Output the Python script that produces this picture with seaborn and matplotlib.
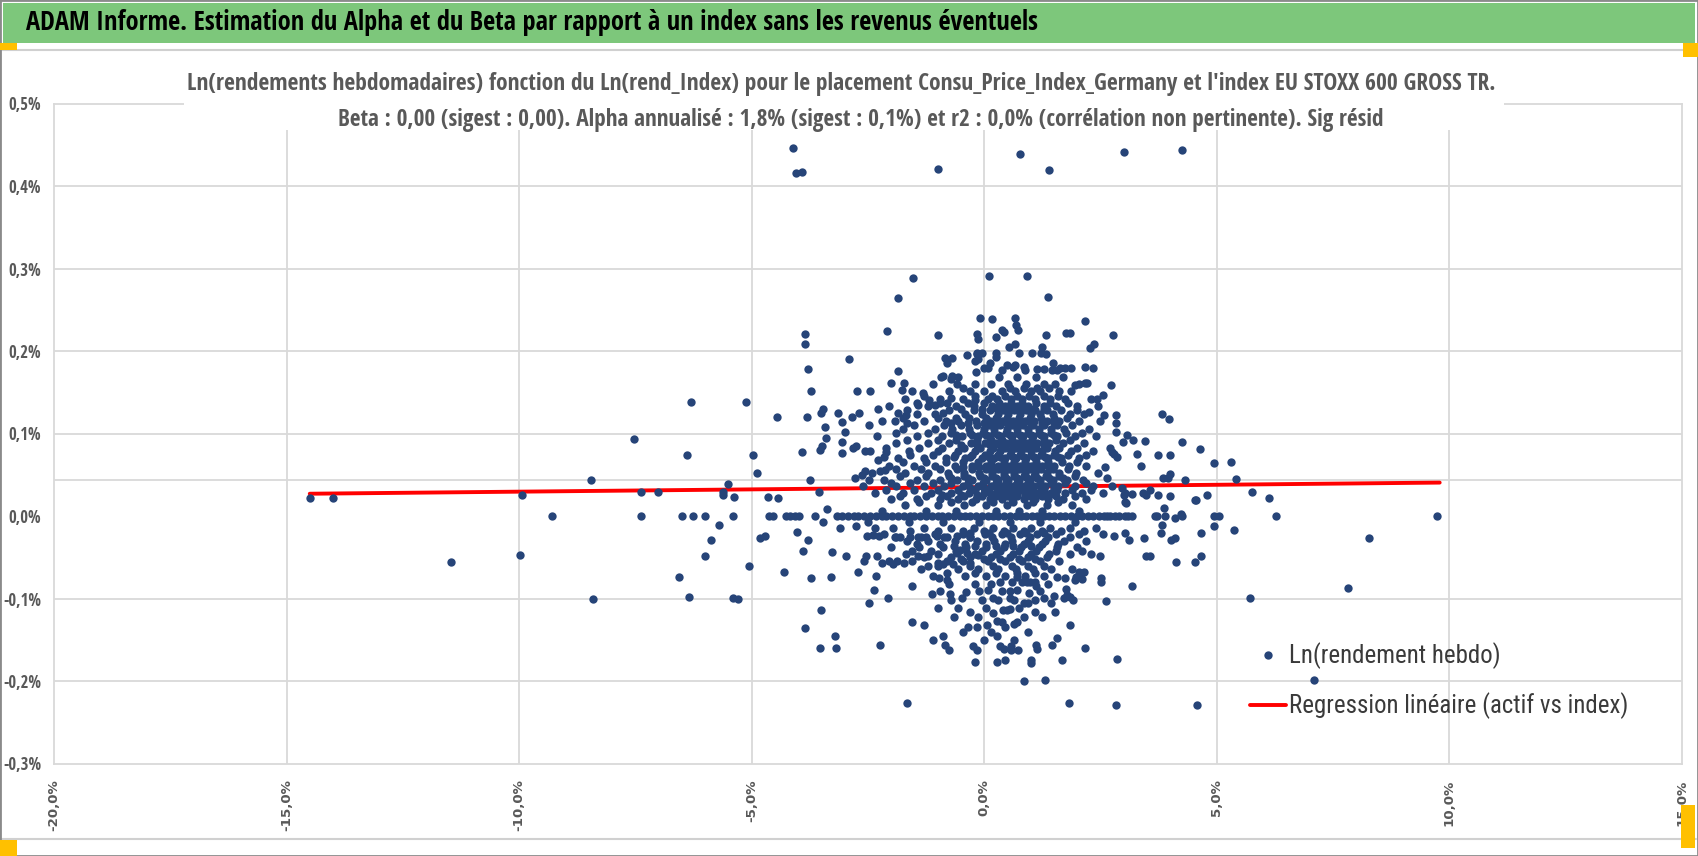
import matplotlib
matplotlib.use("Agg")
import matplotlib.pyplot as plt
import seaborn as sns
import pandas as pd
from matplotlib.lines import Line2D
from matplotlib.patches import Rectangle
from matplotlib import font_manager as fm
from matplotlib.font_manager import FontProperties

# ---------------- data (in %) ----------------
left_tail = [(-14.49, 0.022), (-14.01, 0.022), (-11.46, -0.056), (-9.98, -0.047), (-9.93, 0.025),
             (-9.28, 0.0), (-8.45, 0.044), (-8.40, -0.101), (-7.53, 0.093), (-7.37, 0.029), (-7.37, 0.0),
             (-7.02, 0.029), (-6.38, 0.074), (-6.55, -0.074), (-6.35, -0.098), (-6.49, 0.0), (-6.26, 0.0),
             (-5.99, 0.0), (-5.39, 0.0), (-6.30, 0.138), (-5.12, 0.138), (-5.51, 0.039), (-5.62, 0.029),
             (-5.61, 0.025), (-5.38, 0.023), (-4.97, 0.074), (-4.89, 0.052), (-5.69, -0.011), (-5.88, -0.029),
             (-6.0, -0.048), (-5.39, -0.099), (-5.28, -0.101), (-5.05, -0.06), (-4.82, -0.027), (-4.70, -0.024),
             (-4.65, 0.023), (-4.42, 0.022), (-4.62, 0.0), (-4.53, 0.0), (-4.45, 0.12), (-4.26, 0.0), (-4.17, 0.0),
             (-4.06, 0.0), (-3.97, 0.0), (-4.10, 0.446), (-4.04, 0.416), (-3.92, 0.417)]

upper_points = [(-0.98, 0.421), (0.78, 0.439), (1.40, 0.419), (3.0, 0.441), (4.25, 0.444), (-1.53, 0.289),
                (0.10, 0.291), (0.92, 0.291), (-1.85, 0.264), (-2.09, 0.224), (-1.0, 0.220), (-3.84, 0.221),
                (-3.85, 0.208), (-3.78, 0.178), (-3.71, 0.151), (-2.91, 0.19), (-3.81, 0.12), (-3.91, 0.078),
                (-3.74, 0.044), (-3.55, 0.029), (-3.43, 0.108), (-3.4, 0.095), (-3.5, 0.125), (-3.46, 0.13),
                (-3.52, 0.08), (-3.49, 0.085), (-3.15, 0.125), (-3.05, 0.114), (-3.0, 0.102), (-3.05, 0.09),
                (-3.05, 0.076), (-2.84, 0.12), (-2.68, 0.125), (-2.73, 0.151), (-2.46, 0.152), (-2.47, 0.11),
                (-2.29, 0.13), (-2.81, 0.082), (-2.75, 0.085), (-2.55, 0.079), (-2.77, 0.046), (-2.63, 0.05),
                (-2.55, 0.054), (-2.47, 0.044), (-2.27, 0.068), (-2.15, 0.072), (-2.11, 0.078), (-2.24, 0.054),
                (-2.13, 0.056), (-1.99, 0.161), (-1.85, 0.176), (-1.72, 0.161), (-1.76, 0.153), (-1.86, 0.125),
                (-1.68, 0.123), (-1.65, 0.113), (-1.92, 0.115), (-0.89, 0.125), (-0.84, 0.191), (-0.68, 0.191),
                (-0.8, 0.185), (-0.89, 0.17), (-0.93, 0.168), (-0.68, 0.17), (-0.7, 0.166), (-0.57, 0.16),
                (-0.37, 0.195), (-0.14, 0.221), (-0.12, 0.215), (-0.09, 0.24), (-0.15, 0.196), (-0.12, 0.19),
                (-0.17, 0.175), (-0.3, 0.152), (-0.71, 0.143), (-0.19, 0.141), (-1.32, 0.149), (-1.41, 0.135),
                (-1.18, 0.141), (-1.05, 0.135), (-0.95, 0.137), (1.37, 0.266), (0.17, 0.239), (0.67, 0.240),
                (0.68, 0.232), (0.74, 0.226), (0.39, 0.225), (0.42, 0.223), (0.26, 0.217), (1.33, 0.220),
                (1.77, 0.222), (1.86, 0.222), (2.17, 0.236), (2.78, 0.220), (2.29, 0.204), (2.37, 0.208),
                (0.54, 0.205), (0.66, 0.208), (1.25, 0.205), (1.23, 0.198), (1.34, 0.196), (-0.16, 0.198),
                (-0.04, 0.198), (0.26, 0.197), (0.26, 0.193), (0.76, 0.198), (1.03, 0.197), (-0.19, 0.188),
                (-0.01, 0.18), (0.09, 0.18), (0.13, 0.185), (0.39, 0.177), (0.50, 0.183), (0.62, 0.181),
                (0.67, 0.183), (0.85, 0.181), (0.88, 0.177), (1.15, 0.178), (1.28, 0.178), (1.48, 0.185),
                (1.46, 0.177), (1.58, 0.177), (1.63, 0.179), (1.74, 0.179), (1.87, 0.179), (2.17, 0.181),
                (2.34, 0.179), (2.17, 0.161), (2.21, 0.161), (2.74, 0.159), (1.96, 0.159), (2.55, 0.147),
                (2.42, 0.142), (2.25, 0.126), (2.57, 0.123), (2.83, 0.122), (2.83, 0.113), (2.83, 0.102),
                (3.83, 0.124), (3.97, 0.117), (3.08, 0.098), (2.99, 0.09), (3.2, 0.092), (3.46, 0.091),
                (4.26, 0.09), (4.65, 0.081), (2.70, 0.082), (2.75, 0.077), (2.80, 0.075), (2.86, 0.072),
                (3.30, 0.075), (3.38, 0.061), (3.75, 0.074), (3.99, 0.074), (2.60, 0.059), (2.64, 0.046),
                (3.84, 0.046), (3.96, 0.046), (4.0, 0.051), (4.32, 0.044)]

right_tail = [(2.75, 0.036), (2.96, 0.034), (3.03, 0.028), (3.18, 0.027), (3.0, 0.026), (3.43, 0.028),
              (3.48, 0.025), (3.57, 0.031), (3.75, 0.025), (4.01, 0.024), (4.54, 0.019), (3.04, 0.017),
              (3.82, -0.011), (3.88, 0.010), (3.89, 0.0), (4.10, -0.002), (4.24, 0.002), (3.68, 0.0),
              (3.18, 0.0), (3.10, 0.0), (3.04, 0.0), (2.90, 0.0), (2.64, 0.0), (3.71, 0.0), (4.25, 0.0),
              (4.95, 0.064), (5.31, 0.066), (5.43, 0.045), (4.55, 0.019), (4.79, 0.025), (5.77, 0.029),
              (6.13, 0.022), (4.95, 0.0), (5.05, 0.0), (6.27, 0.0), (9.75, 0.0), (4.95, -0.012),
              (4.67, -0.021), (5.37, -0.017), (8.27, -0.027), (4.67, -0.048), (3.05, 0.016), (7.83, -0.087),
              (5.73, -0.099), (7.09, -0.199), (4.57, -0.229), (2.83, -0.229), (1.82, -0.227), (2.85, -0.173),
              (2.79, -0.024), (3.03, -0.021), (3.12, -0.029), (3.45, -0.027), (3.80, -0.021), (4.03, -0.029),
              (4.11, -0.027), (3.18, -0.085), (2.5, -0.049), (3.48, -0.048), (3.58, -0.049), (4.13, -0.056),
              (4.53, -0.056), (2.62, -0.103), (2.52, -0.08)]

lower_points = [(0.85, -0.2), (1.31, -0.199), (1.68, -0.175), (0.27, -0.177), (0.45, -0.175), (1.0, -0.174),
                (1.0, -0.178), (2.17, -0.16), (1.58, -0.148), (1.47, -0.156), (1.12, -0.156), (1.13, -0.161),
                (0.74, -0.163), (0.57, -0.157), (0.57, -0.163), (0.42, -0.161), (0.34, -0.157), (1.84, -0.132),
                (0.29, -0.146), (0.06, -0.132), (0.29, -0.127), (0.39, -0.129), (0.45, -0.134), (0.65, -0.131),
                (0.71, -0.129), (0.19, -0.117), (0.41, -0.114), (0.49, -0.114), (0.56, -0.113), (1.09, -0.116),
                (1.53, -0.116), (0.85, -0.105), (0.94, -0.105), (1.44, -0.105), (1.51, -0.097), (1.30, -0.099),
                (1.72, -0.099), (1.78, -0.096), (1.91, -0.102), (1.84, -0.098), (0.19, -0.099), (0.55, -0.099),
                (0.08, -0.09), (0.72, -0.09), (0.97, -0.093), (1.77, -0.088), (0.34, -0.08), (0.6, -0.08),
                (0.71, -0.074), (0.81, -0.08), (0.92, -0.08), (0.99, -0.08), (1.1, -0.08), (1.11, -0.085),
                (1.56, -0.074), (1.75, -0.075), (1.96, -0.078), (1.97, -0.074), (2.1, -0.076), (2.05, -0.068),
                (2.15, -0.068), (2.52, -0.075), (-3.46, -0.007), (-3.38, 0.008), (-4.02, -0.019),
                (-3.78, -0.029), (-3.90, -0.043), (-4.3, -0.068), (-3.71, -0.075), (-3.27, -0.044),
                (-3.29, -0.074), (-3.5, -0.114), (-3.86, -0.136), (-3.2, -0.146), (-3.53, -0.16), (-3.18, -0.16),
                (-2.23, -0.156), (-1.66, -0.227), (-2.97, -0.048), (-3.10, -0.015), (-2.75, -0.012),
                (-2.72, -0.068), (-2.33, -0.073), (-2.37, -0.09), (-2.47, -0.105), (-2.06, -0.099),
                (-1.55, -0.085), (-1.55, -0.129), (-1.29, -0.132), (-1.12, -0.095), (-0.73, -0.095),
                (-0.96, -0.075), (-0.80, -0.078), (-0.88, -0.146), (-0.84, -0.156), (-0.75, -0.163),
                (-0.47, -0.099), (-0.39, -0.092), (-0.30, -0.116), (-0.35, -0.134), (-0.16, -0.134),
                (-0.23, -0.158), (-0.14, -0.163), (-0.19, -0.177), (-2.53, -0.048), (-2.58, -0.054),
                (-2.31, -0.048), (-2.19, -0.057), (-2.04, -0.054), (-1.95, -0.058), (-1.87, -0.054),
                (-1.72, -0.057), (-1.43, -0.049), (-1.21, -0.049), (-1.2, -0.06), (-0.98, -0.057),
                (-0.89, -0.058), (-0.67, -0.058), (-0.59, -0.045), (-0.52, -0.041), (-0.37, -0.045),
                (-0.30, -0.057), (-0.13, -0.047), (-2.51, -0.024), (-2.38, -0.023), (-2.25, -0.024),
                (-2.35, -0.014), (-1.92, -0.025), (-1.81, -0.026), (-1.59, -0.026), (-1.43, -0.026),
                (-1.25, -0.025), (-1.02, -0.024), (-0.80, -0.025), (-0.59, -0.024), (-0.30, -0.025),
                (-3.64, 0.0), (-3.17, 0.0), (-3.05, 0.0)]

# dense core of the cloud, read row by row: (y, [x values])
core_rows = [
    (0.168, [-0.55, 0.32, 0.72, 1.12, 1.7]),
    (0.160, [-1.1, -0.2, 0.15, 0.52, 0.9, 1.3, 1.52, 2.05]),
    (0.151, [-1.55, -0.75, 0.0, 0.38, 0.66, 1.02, 1.2, 1.62, 1.88]),
    (0.142, [-1.7, -0.95, -0.45, 0.08, 0.28, 0.58, 0.82, 1.1, 1.42, 1.75, 2.3]),
    (0.133, [-2.05, -1.2, -0.6, -0.22, 0.18, 0.45, 0.7, 0.95, 1.28, 1.55, 2.0, 2.45]),
    (0.124, [-1.45, -1.05, -0.4, -0.05, 0.3, 0.52, 0.78, 1.0, 1.2, 1.48, 1.85, 2.15]),
    (0.115, [-2.2, -1.3, -0.82, -0.55, -0.18, 0.12, 0.38, 0.62, 0.88, 1.08, 1.35, 1.62, 2.05, 2.5]),
    (0.106, [-1.75, -1.05, -0.68, -0.32, 0.0, 0.22, 0.5, 0.72, 0.95, 1.18, 1.44, 1.72, 2.25]),
    (0.097, [-2.3, -1.45, -0.9, -0.48, -0.12, 0.1, 0.35, 0.6, 0.84, 1.05, 1.3, 1.58, 1.95, 2.4]),
    (0.088, [-1.9, -1.2, -0.75, -0.28, 0.02, 0.25, 0.48, 0.7, 0.92, 1.15, 1.4, 1.7, 2.15]),
    (0.079, [-2.45, -1.62, -1.0, -0.55, -0.2, 0.12, 0.35, 0.58, 0.8, 1.02, 1.25, 1.52, 1.88, 2.35]),
    (0.070, [-1.85, -1.3, -0.82, -0.4, -0.05, 0.22, 0.45, 0.68, 0.9, 1.12, 1.38, 1.65, 2.05]),
    (0.061, [-2.05, -1.5, -1.05, -0.62, -0.25, 0.05, 0.3, 0.55, 0.78, 1.0, 1.25, 1.5, 1.82, 2.2]),
    (0.052, [-2.4, -1.7, -1.2, -0.78, -0.42, -0.1, 0.18, 0.42, 0.65, 0.88, 1.1, 1.35, 1.62, 1.98, 2.45]),
    (0.044, [-2.15, -1.45, -0.95, -0.58, -0.25, 0.05, 0.3, 0.52, 0.75, 0.98, 1.2, 1.48, 1.78, 2.12]),
    (0.036, [-2.6, -1.9, -1.3, -0.85, -0.45, -0.12, 0.15, 0.4, 0.62, 0.85, 1.08, 1.32, 1.6, 1.95, 2.35]),
    (0.028, [-2.35, -1.75, -1.15, -0.7, -0.32, 0.0, 0.25, 0.48, 0.72, 0.95, 1.18, 1.45, 1.75, 2.1, 2.55]),
    (0.021, [-2.0, -1.45, -0.95, -0.55, -0.18, 0.12, 0.38, 0.6, 0.85, 1.1, 1.38, 1.7, 2.2]),
    (0.013, [-1.7, -1.0, -0.42, 0.05, 0.5, 0.92, 1.35, 1.9]),
    (0.006, [-2.2, -1.25, -0.6, 0.25, 0.75, 1.25, 2.05]),
    (0.000, [-2.92, -2.8, -2.7, -2.57, -2.45, -2.33, -2.2, -2.1, -1.97, -1.85, -1.72, -1.6, -1.5, -1.37,
             -1.25, -1.12, -1.0, -0.9, -0.77, -0.65, -0.52, -0.4, -0.3, -0.17, -0.05, 0.08, 0.2, 0.3, 0.43,
             0.55, 0.68, 0.8, 0.9, 1.03, 1.15, 1.28, 1.4, 1.5, 1.63, 1.75, 1.88, 2.0, 2.1, 2.23, 2.35, 2.48,
             2.58, 2.72, 2.82]),
    (-0.007, [-2.5, -1.62, -0.88, -0.1, 0.55, 1.2, 1.95]),
    (-0.014, [-1.95, -1.3, -0.7, -0.22, 0.2, 0.62, 1.0, 1.42, 1.85, 2.4]),
    (-0.022, [-2.15, -1.05, -0.45, 0.02, 0.38, 0.78, 1.15, 1.55, 2.05, 2.55]),
    (-0.030, [-1.65, -1.2, -0.62, -0.15, 0.22, 0.6, 0.95, 1.32, 1.72, 2.2]),
    (-0.038, [-2.0, -1.4, -0.88, -0.38, 0.05, 0.42, 0.8, 1.18, 1.58, 2.0]),
    (-0.046, [-1.68, -1.0, -0.2, 0.25, 0.62, 1.0, 1.4, 1.85, 2.3]),
    (-0.055, [-1.55, -0.8, -0.45, 0.08, 0.45, 0.82, 1.2, 1.62]),
    (-0.064, [-1.35, -0.55, -0.12, 0.3, 0.68, 1.05, 1.45, 1.9]),
    (-0.073, [-1.1, -0.4, 0.05, 0.45, 0.88, 1.3]),
    (-0.082, [-0.75, -0.2, 0.15, 1.38]),
    (-0.091, [-0.95, -0.1, 0.38, 0.55, 1.2]),
    (-0.102, [-0.7, -0.05, 0.3, 0.65, 1.1]),
    (-0.112, [-1.0, -0.55, 0.05, 0.75]),
    (-0.122, [-0.65, -0.12, 0.85, 1.25]),
    (-0.140, [-0.45, 0.15, 0.95]),
    (-0.150, [-1.1, 0.0, 0.65]),
]

# denser centre of the cloud, rows lying between the rows above
core_rows_mid = [
    (0.155, [-0.45, 0.55, 0.85, 1.15, 1.4]),
    (0.146, [-1.3, -0.2, 0.18, 0.45, 0.72, 0.96, 1.28, 1.6]),
    (0.137, [-1.45, -0.8, -0.35, 0.0, 0.32, 0.58, 0.82, 1.12, 1.42, 1.8]),
    (0.128, [-1.65, -0.75, -0.22, 0.12, 0.4, 0.65, 0.9, 1.1, 1.35, 1.65, 2.0]),
    (0.119, [-1.75, -1.0, -0.6, -0.32, 0.05, 0.25, 0.5, 0.75, 0.98, 1.22, 1.5, 1.78]),
    (0.110, [-1.5, -0.85, -0.5, -0.15, 0.1, 0.35, 0.6, 0.84, 1.06, 1.3, 1.58, 1.9]),
    (0.101, [-1.9, -1.2, -0.72, -0.3, -0.02, 0.22, 0.48, 0.72, 0.95, 1.18, 1.44, 1.76, 2.1]),
    (0.092, [-1.65, -1.0, -0.6, -0.15, 0.14, 0.38, 0.6, 0.82, 1.04, 1.28, 1.55, 1.85]),
    (0.083, [-2.1, -1.4, -0.9, -0.42, -0.08, 0.2, 0.45, 0.68, 0.9, 1.12, 1.35, 1.62, 2.0]),
    (0.074, [-1.6, -1.1, -0.62, -0.25, 0.02, 0.3, 0.55, 0.78, 1.0, 1.22, 1.5, 1.8, 2.2]),
    (0.065, [-1.75, -1.25, -0.82, -0.45, -0.12, 0.15, 0.42, 0.65, 0.88, 1.12, 1.38, 1.68, 2.0]),
    (0.057, [-1.9, -1.35, -0.95, -0.58, -0.25, 0.05, 0.3, 0.54, 0.76, 0.98, 1.22, 1.48, 1.8]),
    (0.048, [-1.8, -1.25, -0.75, -0.42, -0.08, 0.18, 0.42, 0.64, 0.86, 1.08, 1.33, 1.62, 1.95]),
    (0.040, [-2.0, -1.6, -1.1, -0.7, -0.35, -0.02, 0.25, 0.48, 0.72, 0.95, 1.2, 1.45, 1.75, 2.2]),
    (0.032, [-2.1, -1.5, -1.0, -0.55, -0.2, 0.1, 0.35, 0.6, 0.82, 1.05, 1.3, 1.58, 1.9, 2.3]),
    (0.024, [-1.8, -1.25, -0.8, -0.42, -0.05, 0.25, 0.5, 0.72, 0.98, 1.25, 1.55, 1.95]),
    (0.017, [-1.4, -0.7, -0.25, 0.2, 0.62, 1.05, 1.6]),
    (-0.018, [-1.6, -1.0, -0.45, 0.0, 0.42, 0.85, 1.25, 1.65, 2.15]),
    (-0.026, [-1.9, -1.35, -0.85, -0.3, 0.18, 0.58, 0.98, 1.38, 1.85]),
    (-0.034, [-1.45, -0.95, -0.4, 0.05, 0.45, 0.85, 1.25, 1.6]),
    (-0.042, [-1.55, -1.15, -0.6, -0.05, 0.35, 0.75, 1.12, 1.55, 2.1]),
    (-0.050, [-1.3, -0.7, -0.3, 0.15, 0.55, 0.95, 1.35]),
    (-0.060, [-1.0, -0.3, 0.2, 0.6, 0.95, 1.3]),
    (-0.069, [-0.8, -0.2, 0.25, 0.7, 1.1]),
]

# the most crowded part of the cloud, just above and below the regression line
core_rows_centre = [
    (0.130, [-0.5, -0.05, 0.28, 0.55, 0.8, 1.05, 1.3]),
    (0.113, [-0.7, -0.35, 0.0, 0.25, 0.5, 0.75, 1.0, 1.25, 1.5]),
    (0.098, [-0.6, -0.25, 0.05, 0.3, 0.55, 0.78, 1.0, 1.22, 1.5]),
    (0.086, [-0.5, -0.15, 0.12, 0.35, 0.6, 0.82, 1.05, 1.3]),
    (0.072, [-0.65, -0.3, 0.1, 0.35, 0.62, 0.85, 1.08, 1.32, 1.6]),
    (0.059, [-0.45, -0.1, 0.18, 0.42, 0.66, 0.9, 1.15, 1.4]),
    (0.046, [-0.7, -0.35, 0.0, 0.25, 0.48, 0.7, 0.92, 1.15, 1.4, 1.7]),
    (0.034, [-0.3, 0.0, 0.28, 0.52, 0.75, 0.98, 1.22, 1.5]),
    (0.026, [-0.9, -0.5, -0.15, 0.15, 0.4, 0.62, 0.88, 1.12, 1.4]),
    (-0.020, [-0.3, 0.1, 0.5, 0.9, 1.3]),
    (-0.036, [-0.65, -0.2, 0.25, 0.62, 1.0]),
    (-0.052, [-0.5, 0.0, 0.35, 0.75, 1.1]),
]

# regression line end points (actif vs index)
reg_x = [-14.5, 9.8]
reg_y = [0.027, 0.0405]

x_ticks = [-20, -15, -10, -5, 0, 5, 10, 15]
x_tick_labels = ["-20,0%", "-15,0%", "-10,0%", "-5,0%", "0,0%", "5,0%", "10,0%", "15,0%"]
y_ticks = [-0.3, -0.2, -0.1, 0.0, 0.1, 0.2, 0.3, 0.4, 0.5]
y_tick_labels = ["-0,3%", "-0,2%", "-0,1%", "0,0%", "0,1%", "0,2%", "0,3%", "0,4%", "0,5%"]
h_grid = [-0.2, -0.1, 0.1, 0.2, 0.3, 0.4]
h_axis_cross = 0.0436
v_grid = [-15, -10, -5, 0, 5, 10]

header = "ADAM Informe. Estimation du Alpha et du Beta par rapport à un index sans les revenus éventuels"
title1 = ("Ln(rendements hebdomadaires) fonction du Ln(rend_Index) pour le placement "
          "Consu_Price_Index_Germany et l'index EU STOXX 600 GROSS TR.")
title2 = ("Beta : 0,00 (sigest : 0,00). Alpha annualisé : 1,8% (sigest : 0,1%) et r2 : 0,0% "
          "(corrélation non pertinente). Sig résid")
legend_labels = ["Ln(rendement hebdo)", "Regression linéaire (actif vs index)"]

# ---------------- build table ----------------
pairs = left_tail + upper_points + right_tail + lower_points
for yv, xs in core_rows + core_rows_mid + core_rows_centre:
    pairs += [(xv, yv) for xv in xs]
df = pd.DataFrame(pairs, columns=["index_ret", "asset_ret"])
reg_df = pd.DataFrame({"index_ret": reg_x, "asset_ret": reg_y})

# ---------------- fonts ----------------
W, H, DPI = 1698, 856, 100
sns.set_theme(style="white")
plt.rcParams['font.family'] = ['Liberation Sans', 'DejaVu Sans']


def _weight(f):
    w = f.weight
    if isinstance(w, str):
        w = fm.weight_dict.get(w, 400)
    return int(w)


def _is_narrow(f):
    st = f.stretch
    if isinstance(st, str):
        narrow_st = st in ("condensed", "semi-condensed", "extra-condensed", "ultra-condensed")
    else:
        narrow_st = st < 500
    n = f.name
    return ("Narrow" in n) or ("Condensed" in n) or narrow_st


def pick_font(target):
    prefs = ["Liberation Sans Narrow", "Open Sans", "Roboto", "Noto Sans", "DejaVu Sans", "Lato", "Inter"]
    best = None
    for f in fm.fontManager.ttflist:
        if f.style != "normal" or not _is_narrow(f):
            continue
        if "Mono" in f.name or "Serif" in f.name or "CJK" in f.name:
            continue
        w = _weight(f)
        rank = None
        for i, p in enumerate(prefs):
            if f.name.startswith(p):
                rank = i
                break
        if rank is None:
            continue
        score = (0 if abs(w - target) <= 100 else 1, rank, abs(w - target))
        if best is None or score < best[0]:
            best = (score, f.fname)
    if best is None:
        return FontProperties(family=["Liberation Sans", "DejaVu Sans"],
                              weight="bold" if target >= 600 else "normal")
    return FontProperties(fname=best[1])


FP_REG = pick_font(450)
FP_BOLD = pick_font(700)

DOT = "#264478"
GRID = "#d9d9d9"
TXT = "#595959"

fig = plt.figure(figsize=(W / DPI, H / DPI), dpi=DPI)
fig.patch.set_facecolor("white")
renderer = fig.canvas.get_renderer()


def fx(px):
    return px / W


def fy(py):
    return 1 - py / H


def fit(t, target_w):
    bb = t.get_window_extent(renderer)
    t.set_fontsize(t.get_fontsize() * target_w / bb.width)
    return t.get_fontsize()


L, R, T, B = 54, 1681.5, 103.5, 763.5
ax = fig.add_axes([fx(L), fy(B), fx(R) - fx(L), fy(T) - fy(B)])
ax.set_facecolor("white")

for v in v_grid:
    ax.axvline(v, color=GRID, lw=1.3, zorder=1)
for h in h_grid:
    ax.axhline(h, color=GRID, lw=1.3, zorder=1)
ax.axhline(h_axis_cross, color=GRID, lw=1.3, zorder=1)

sns.lineplot(data=reg_df, x="index_ret", y="asset_ret", color="#ff0000", lw=2.8, ax=ax,
             estimator=None, sort=False, legend=False, zorder=2)
sns.scatterplot(data=df, x="index_ret", y="asset_ret", color=DOT, s=36, linewidth=0, ax=ax,
                legend=False, zorder=3)

ax.set_xlim(-20, 15)
ax.set_ylim(-0.3, 0.5)
ax.set_xticks(x_ticks)
ax.set_xticklabels(x_tick_labels, rotation=90, fontfamily="DejaVu Sans", fontweight="bold",
                   fontsize=9.6, color=TXT, va="top")
ax.set_yticks(y_ticks)
ax.set_yticklabels(y_tick_labels, color=TXT)
ax.tick_params(axis="x", length=0, pad=11.5)
ax.tick_params(axis="y", length=0, pad=9.2)
ax.set_xlabel("")
ax.set_ylabel("")
for sp in ax.spines.values():
    sp.set_color(GRID)
    sp.set_linewidth(1.3)

# y tick labels: "-0,3%" is about 38 px wide
ylabs = ax.get_yticklabels()
for lb in ylabs:
    lb.set_fontproperties(FP_BOLD)
    lb.set_fontsize(12)
probe = fig.text(0, 0, "-0,3%", fontproperties=FP_BOLD, fontsize=12)
ysize = fit(probe, 38)
probe.remove()
for lb in ylabs:
    lb.set_fontsize(min(ysize, 13))
    lb.set_color(TXT)

# legend: first label about 211 px wide
probe = fig.text(0, 0, legend_labels[0], fontproperties=FP_REG, fontsize=18)
lsize = fit(probe, 211)
probe.remove()
fpx = lsize / 72 * DPI
leg_prop = FP_REG.copy()
leg_prop.set_size(lsize)
handles = [Line2D([], [], marker="o", ls="none", color=DOT, markersize=6, markeredgewidth=0),
           Line2D([], [], color="#ff0000", lw=2.8)]


def make_legend(anchor_x, anchor_y, spacing):
    lg = ax.legend(handles, legend_labels, loc="upper left", bbox_to_anchor=(fx(anchor_x), fy(anchor_y)),
                   bbox_transform=fig.transFigure, frameon=False, handlelength=36 / fpx,
                   handletextpad=3 / fpx, borderpad=0, borderaxespad=0, labelspacing=spacing,
                   prop=leg_prop)
    for t in lg.get_texts():
        t.set_color("#3a3a3a")
    return lg


ax_x, ax_y, spacing = 1251.0, 640.0, 0.9
leg = make_legend(ax_x, ax_y, spacing)
for _ in range(2):
    fig.canvas.draw()
    ta, tb = leg.get_texts()
    ba, bb2 = ta.get_window_extent(renderer), tb.get_window_extent(renderer)
    ca = H - (ba.y0 + ba.y1) / 2
    cb = H - (bb2.y0 + bb2.y1) / 2
    spacing += (50 - (cb - ca)) / fpx
    ax_y += 656 - ca
    ax_x += 1289 - ba.x0
    leg.remove()
    leg = make_legend(ax_x, ax_y, spacing)

# ---------------- frame, header and title ----------------
fig.patches.append(Rectangle((fx(3), fy(43)), fx(1692), 40 / H, transform=fig.transFigure,
                             facecolor="#7dc77b", edgecolor="none", zorder=1))
fig.lines.append(Line2D([fx(2), fx(1696)], [fy(50), fy(50)], transform=fig.transFigure,
                        color="#d0d0d0", lw=1.5, zorder=1))
fig.lines.append(Line2D([fx(2), fx(1696)], [fy(839), fy(839)], transform=fig.transFigure,
                        color="#d0d0d0", lw=1.5, zorder=1))
fig.patches.append(Rectangle((0, 0), 1, 1, transform=fig.transFigure, facecolor="none",
                             edgecolor="#8a8a8a", lw=2, zorder=1))
for (x0, y0, w, h) in [(0, 43, 17, 7), (1683, 43, 15, 14), (0, 840, 17, 16), (1681, 805, 14, 43)]:
    fig.patches.append(Rectangle((fx(x0), fy(y0 + h)), w / W, h / H, transform=fig.transFigure,
                                 facecolor="#ffc000", edgecolor="none", zorder=2))

fig.patches.append(Rectangle((fx(184), fy(130)), fx(1504) - fx(184), (130 - 60) / H,
                             transform=fig.transFigure, facecolor="white", edgecolor="none", zorder=3))

t0 = fig.text(fx(26), fy(23), header, ha="left", va="center", fontproperties=FP_BOLD, color="black",
              fontsize=17, zorder=5)
fit(t0, 1010)
t1 = fig.text(fx(187), fy(84), title1, ha="left", va="center", fontproperties=FP_BOLD, color=TXT,
              fontsize=14, zorder=5)
fit(t1, 1311)
t2 = fig.text(fx(338), fy(120), title2, ha="left", va="center", fontproperties=FP_BOLD, color=TXT,
              fontsize=14, zorder=5)
fit(t2, 1051)

fig.savefig("out.png", dpi=DPI, facecolor="white")
